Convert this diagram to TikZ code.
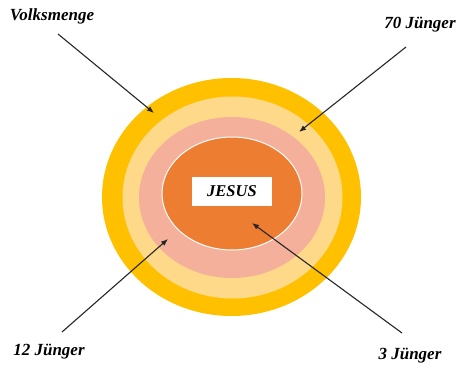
\documentclass[tikz,border=0pt]{standalone}
\usepackage{fontspec}
\setmainfont{Liberation Serif}
\usepackage{xcolor}
\usepackage{tikz}
\usetikzlibrary{positioning, arrows.meta}

\definecolor{ringgold}{HTML}{FFC000}
\definecolor{ringsand}{HTML}{FFD98A}
\definecolor{ringrose}{HTML}{F4B09A}
\definecolor{ringcore}{HTML}{ED7D31}

\tikzset{
  lbl/.style={font=\fontsize{17}{20}\selectfont\bfseries\itshape, inner sep=0pt},
  arr/.style={-{Latex[length=7pt,width=5.5pt]}, line width=1.1pt, black!85}
}

\begin{document}
\begin{tikzpicture}[x=1pt, y=-1pt]
        \useasboundingbox (0,0) rectangle (458,367);

        % Circles of followers
        \fill[ringgold] (231.5,197) ellipse [x radius=129.5, y radius=119];
        \fill[ringsand] (232.5,197.5) ellipse [x radius=110, y radius=101];
        \fill[ringrose] (232,197.5) ellipse [x radius=93, y radius=80.5];
        \draw[white, line width=1pt, fill=ringcore] (232,193.5) ellipse [x radius=70, y radius=56.5];

        % Centre
        \node[fill=white, minimum width=80pt, minimum height=29pt, lbl, font=\fontsize{16.5}{19}\selectfont\bfseries\itshape] (jesus) at (232,191.5) {JESUS};

        % Labels
        \node[lbl] (volk) at (52,16) {Volksmenge};
        \node[lbl] (siebzig) at (420,25) {70 Jünger};
        \node[lbl] (zwoelf) at (49,352) {12 Jünger};
        \node[lbl] (drei) at (410,356) {3 Jünger};

        % Arrow ends
        \coordinate (volkA) at (58,34);
        \coordinate (volkB) at (154,113);
        \coordinate (siebzigA) at (406,47);
        \coordinate (siebzigB) at (299,132);
        \coordinate (zwoelfA) at (62,332);
        \coordinate (zwoelfB) at (168,239);
        \coordinate (dreiA) at (402,333);
        \coordinate (dreiB) at (252,223);

        \draw[arr] (volkA) -- (volkB);
        \draw[arr] (siebzigA) -- (siebzigB);
        \draw[arr] (zwoelfA) -- (zwoelfB);
        \draw[arr] (dreiA) -- (dreiB);
\end{tikzpicture}
\end{document}
